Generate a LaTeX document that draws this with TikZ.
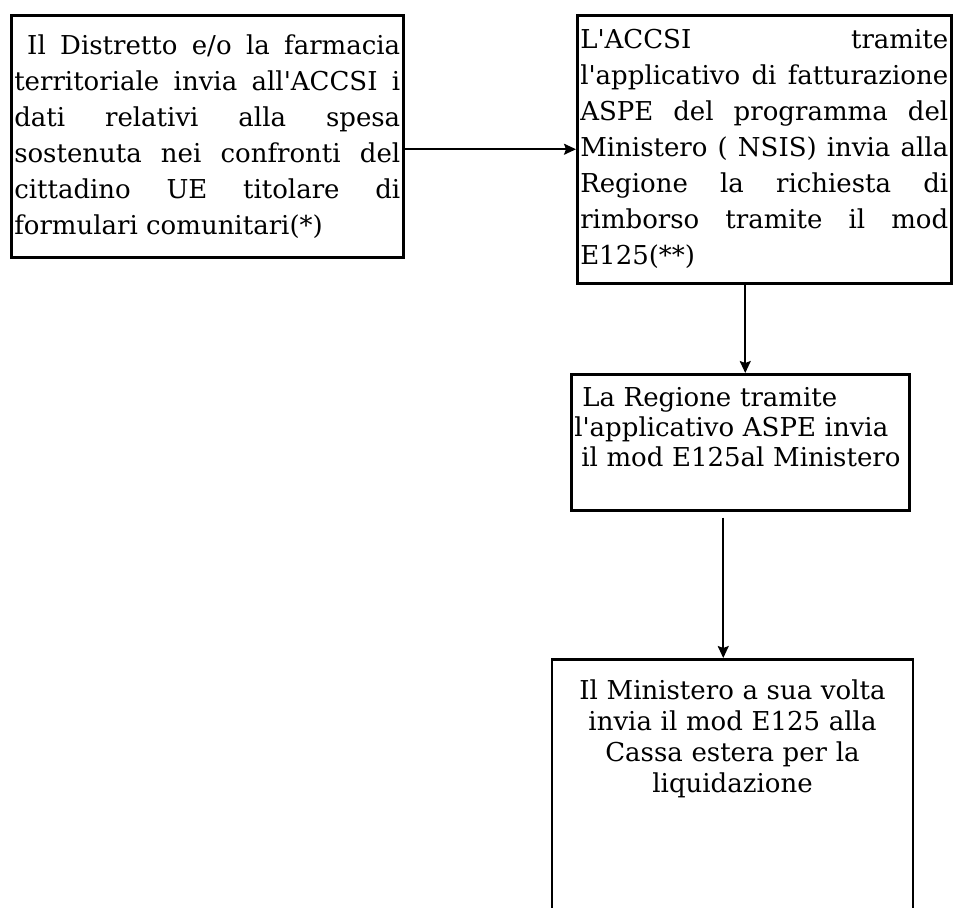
\documentclass[tikz,border=0pt]{standalone}
\usepackage{fontspec}
\setmainfont{DejaVu Serif}[Ligatures=TeXOff]
\usepackage{tikz}
\usetikzlibrary{positioning, arrows.meta, shapes}
\tolerance=10000
\hbadness=10000
\hyphenpenalty=10000
\tikzset{Box style/.style={draw=black, line width=2.5pt, rectangle, inner xsep=3pt, inner ysep=0pt, align=justify, font=\fontsize{26}{36}\selectfont}}
\tikzset{
	>={Stealth[length=12pt, width=11pt, inset=2pt]}, % punta delle frecce piena
	Arrow style/.style={->, line width=1.8pt}, % frecce tra i riquadri
}

\begin{document}
\begin{tikzpicture}[x=1pt, y=-1pt]
        \useasboundingbox (0,0) rectangle (954,908);
        \node[Box style, anchor=north west, text width=386pt, minimum width=392pt, minimum height=242pt] (distretto) at (10,14) {\hspace*{13pt}Il Distretto e/o la farmacia\linebreak territoriale invia all'ACCSI i\linebreak dati relativi alla spesa\linebreak sostenuta nei confronti del\linebreak cittadino UE titolare di\linebreak formulari comunitari(*)};
        \node[Box style, anchor=north west, text width=368pt, minimum width=374pt, minimum height=268pt] (accsi) at (576,14) {L'ACCSI tramite\linebreak l'applicativo di fatturazione\linebreak ASPE del programma del\linebreak Ministero ( NSIS) invia alla\linebreak Regione la richiesta di\linebreak rimborso tramite il mod\linebreak E125(**)};
        \node[Box style, align=left, font=\fontsize{26}{30}\selectfont, anchor=north west, text width=332pt, minimum width=338pt, minimum height=136pt] (regione) at (570,373) {\hspace*{8pt}La Regione tramite\\ l'applicativo ASPE invia\\ \hspace*{7pt}il mod E125al Ministero\\ \mbox{}};
        \node[Box style, align=center, font=\fontsize{26}{31}\selectfont, anchor=north, inner ysep=20pt, text width=355pt, minimum width=361pt] (ministero) at (732.5,658) {Il Ministero a sua volta\\ invia il mod E125 alla\\ Cassa estera per la\\ liquidazione\\[150pt] \mbox{}};

        \draw[Arrow style] (distretto.east |- accsi.west) -- (accsi.west);
        \draw[Arrow style] ([xshift=-19pt]accsi.south) -- ([xshift=-19pt]accsi.south |- regione.north);
        \draw[Arrow style] ([xshift=-17pt, yshift=-6pt]regione.south) -- ([xshift=-17pt]regione.south |- ministero.north);
\end{tikzpicture}
\end{document}
